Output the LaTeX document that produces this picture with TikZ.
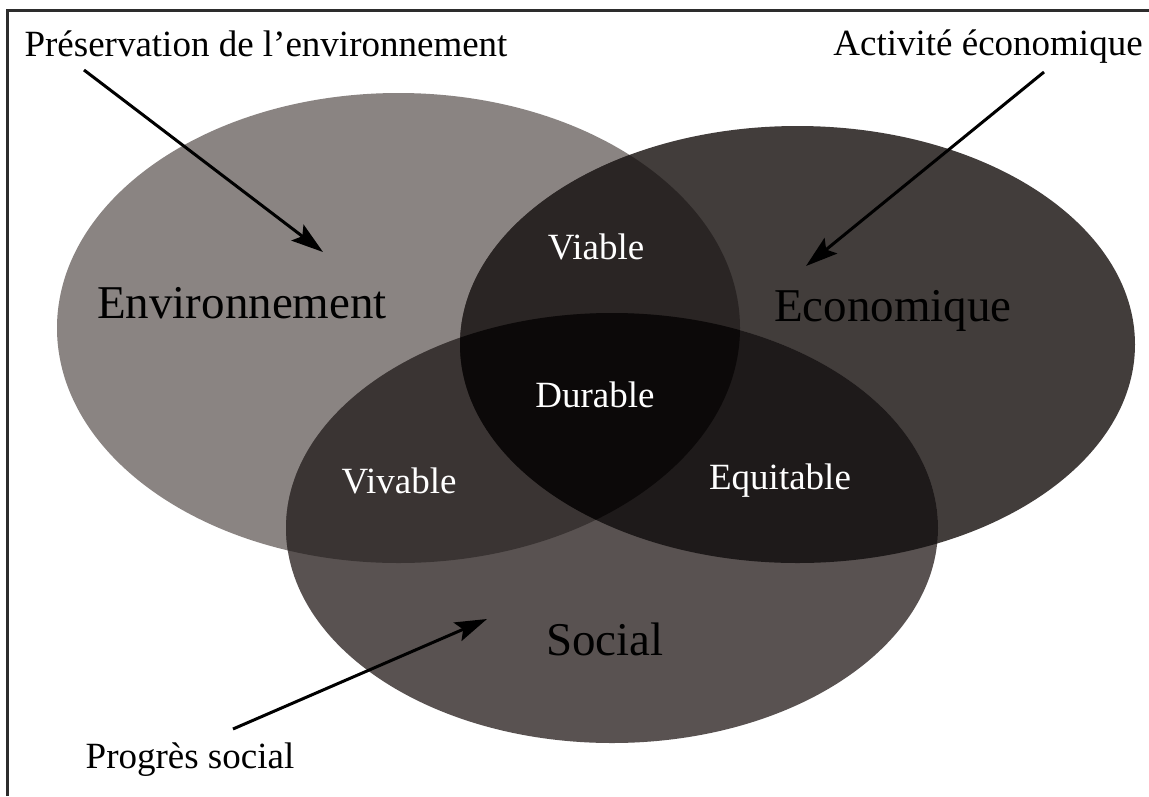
\documentclass[tikz,border=0pt]{standalone}
\usepackage{fontspec}
\setmainfont{Liberation Serif}
\usetikzlibrary{arrows.meta}
\definecolor{envC}{RGB}{138,132,130}
\definecolor{ecoC}{RGB}{66,61,59}
\definecolor{socC}{RGB}{89,82,81}
\definecolor{viaC}{RGB}{42,37,36}
\definecolor{vivC}{RGB}{58,52,51}
\definecolor{equC}{RGB}{30,26,26}
\definecolor{durC}{RGB}{12,9,9}
\definecolor{frameC}{RGB}{45,45,45}
\tikzset{
  small/.style={inner sep=0pt, anchor=base, font=\fontsize{37}{44}\selectfont},
  big/.style={inner sep=0pt, anchor=base, font=\fontsize{47}{56}\selectfont},
  inlabel/.style={small, text=white},
  pointer/.style={line width=3pt, -{Stealth[length=32pt,width=20pt,inset=6pt]}},
}
\newcommand{\envpath}{(398.5,328) ellipse [x radius=341.5, y radius=235]}
\newcommand{\ecopath}{(797.5,344.5) ellipse [x radius=337.5, y radius=218.5]}
\newcommand{\socpath}{(612,528) ellipse [x radius=326, y radius=215]}
\begin{document}
\begin{tikzpicture}[x=1pt,y=-1pt]
\useasboundingbox (0,0) rectangle (1149,796);
\fill[white] (0,0) rectangle (1149,796);
% frame (top and left)
\draw[frameC, line width=3pt] (7,796) -- (7,10) -- (1149,10);
% base ellipses
\fill[envC] \envpath;
\fill[ecoC] \ecopath;
\fill[socC] \socpath;
% pairwise intersections
\begin{scope}
  \clip \envpath;
  \fill[viaC] \ecopath;
\end{scope}
\begin{scope}
  \clip \envpath;
  \fill[vivC] \socpath;
\end{scope}
\begin{scope}
  \clip \ecopath;
  \fill[equC] \socpath;
\end{scope}
\begin{scope}
  \clip \envpath;
  \clip \ecopath;
  \fill[durC] \socpath;
\end{scope}
% labels
\node[small] (pres) at (266,56) {Préservation de l’environnement};
\node[small] (act) at (988,55) {Activité économique};
\node[small] (prog) at (190,768) {Progrès social};
\node[big] (env) at (242,318) {Environnement};
\node[big] (eco) at (893,321) {Economique};
\node[big] (soc) at (605,655) {Social};
\node[inlabel] (via) at (596,259) {Viable};
\node[inlabel] (dur) at (595,407) {Durable};
\node[inlabel] (viv) at (399,493) {Vivable};
\node[inlabel] (equ) at (780,489) {Equitable};
% pointers
\coordinate (presA) at (84,70);
\coordinate (presB) at (323,252);
\coordinate (actA) at (1044,72);
\coordinate (actB) at (806,266);
\coordinate (progA) at (233,729);
\coordinate (progB) at (487,619);
\draw[pointer] (presA) -- (presB);
\draw[pointer] (actA) -- (actB);
\draw[pointer] (progA) -- (progB);
\end{tikzpicture}
\end{document}
